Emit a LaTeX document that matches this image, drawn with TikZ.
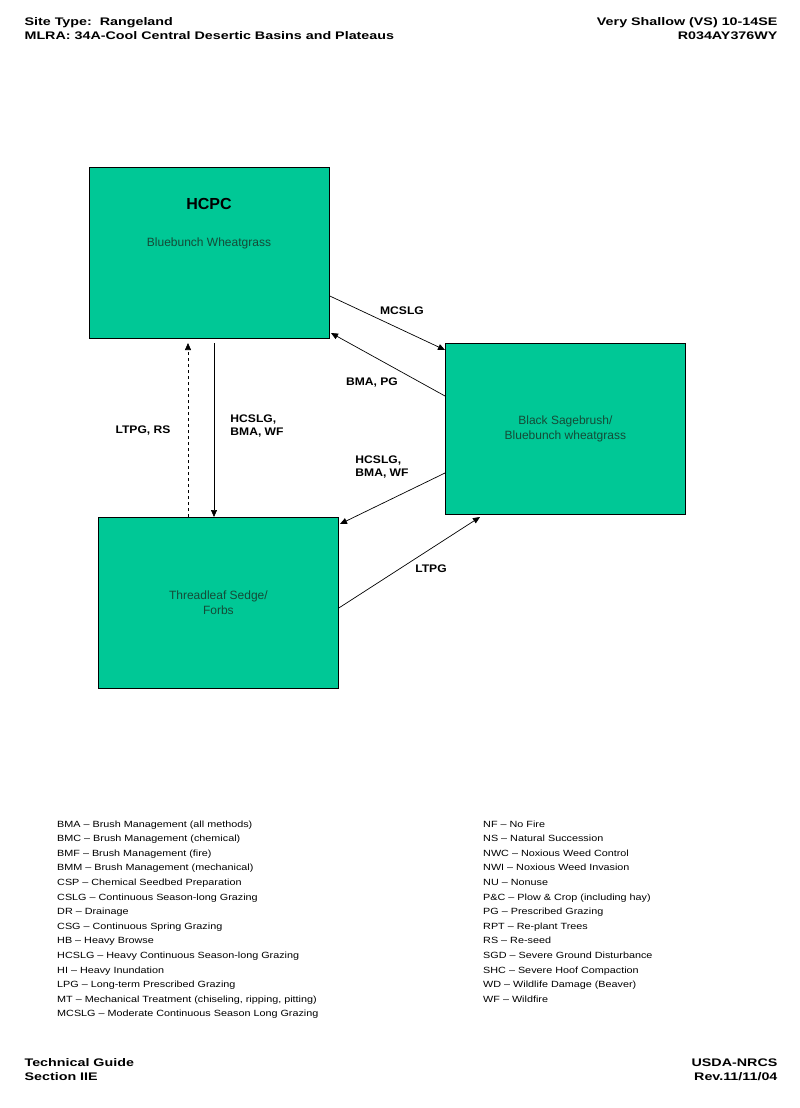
\documentclass[tikz,border=0pt]{standalone}
\usepackage{fontspec}
\setmainfont{Liberation Sans}
\definecolor{sage}{RGB}{0,200,150}
\definecolor{boxtext}{RGB}{20,75,55}
\usetikzlibrary{positioning,arrows.meta}

\begin{document}
\begin{tikzpicture}[x=1pt,y=-1pt]
  \tikzset{state/.style={draw, line width=.8pt, fill=sage, minimum width=240pt, minimum height=171pt, text=boxtext, font=\fontsize{12}{15}\selectfont, align=center},
    lbl/.style={font=\bfseries\fontsize{11}{13}\selectfont, align=left, xscale=1.1, transform shape},
    head/.style={font=\bfseries\fontsize{11}{14}\selectfont, xscale=1.3, transform shape},
    legend/.style={font=\fontsize{9}{14.6}\selectfont, align=left, anchor=north west, xscale=1.2, transform shape},
    trans/.style={-{Triangle[length=7pt,width=6pt]}, line width=.7pt}}
  \useasboundingbox[fill=white] (0,0) rectangle (800,1108);

  % header and footer
  \node[head, anchor=north west, align=left] (hl) at (20,14) {Site Type:\ \ Rangeland\\MLRA: 34A-Cool Central Desertic Basins and Plateaus};
  \node[head, anchor=north east, align=right] (hr) at (782,14) {Very Shallow (VS) 10-14SE\\R034AY376WY};
  \node[head, anchor=north west, align=left] (fl) at (20,1055) {Technical Guide\\Section IIE};
  \node[head, anchor=north east, align=right] (fr) at (782,1055) {USDA-NRCS\\Rev.11/11/04};

  % states
  \node[state, anchor=north west] (hcpc) at (89,167) {};
  \node[font=\bfseries\fontsize{16}{18}\selectfont] (hcpct) at (209,204) {HCPC};
  \node[text=boxtext, font=\fontsize{12}{15}\selectfont] (hcpcs) at (209,243) {Bluebunch Wheatgrass};
  \node[state, anchor=north west] (sage) at (445,343) {Black Sagebrush/\\Bluebunch wheatgrass};
  \node[state, anchor=north west] (sedge) at (98,517) {Threadleaf Sedge/\\Forbs};

  % transitions
  \draw[trans] (hcpc.south east |- 0,296) -- (sage.north west |- 0,350);
  \draw[trans] (sage.west |- 0,396) -- (331,333);
  \draw[trans] (sage.west |- 0,473) -- (340,524);
  \draw[trans] (sedge.east |- 0,608) -- (480,517);
  \draw[trans] (214,343) -- (sedge.north -| 214,0);
  \draw[trans, dashed] (sedge.north -| 188,0) -- (188,343);

  \node[lbl] (l1) at (402,311) {MCSLG};
  \node[lbl] (l2) at (372,383) {BMA, PG};
  \node[lbl] (l3) at (143,431) {LTPG, RS};
  \node[lbl] (l4) at (257,426) {HCSLG,\\BMA, WF};
  \node[lbl] (l5) at (382,467) {HCSLG,\\BMA, WF};
  \node[lbl] (l6) at (431,569) {LTPG};

  % legend
  \node[legend] (legl) at (53,817) {BMA -- Brush Management (all methods)\\BMC -- Brush Management (chemical)\\BMF -- Brush Management (fire)\\BMM -- Brush Management (mechanical)\\CSP -- Chemical Seedbed Preparation\\CSLG -- Continuous Season-long Grazing\\DR -- Drainage\\CSG -- Continuous Spring Grazing\\HB -- Heavy Browse\\HCSLG -- Heavy Continuous Season-long Grazing\\HI -- Heavy Inundation\\LPG -- Long-term Prescribed Grazing\\MT -- Mechanical Treatment (chiseling, ripping, pitting)\\MCSLG -- Moderate Continuous Season Long Grazing};
  \node[legend] (legr) at (479,817) {NF -- No Fire\\NS -- Natural Succession\\NWC -- Noxious Weed Control\\NWI -- Noxious Weed Invasion\\NU -- Nonuse\\P\&C -- Plow \& Crop (including hay)\\PG -- Prescribed Grazing\\RPT -- Re-plant Trees\\RS -- Re-seed\\SGD -- Severe Ground Disturbance\\SHC -- Severe Hoof Compaction\\WD -- Wildlife Damage (Beaver)\\WF -- Wildfire};
\end{tikzpicture}
\end{document}
